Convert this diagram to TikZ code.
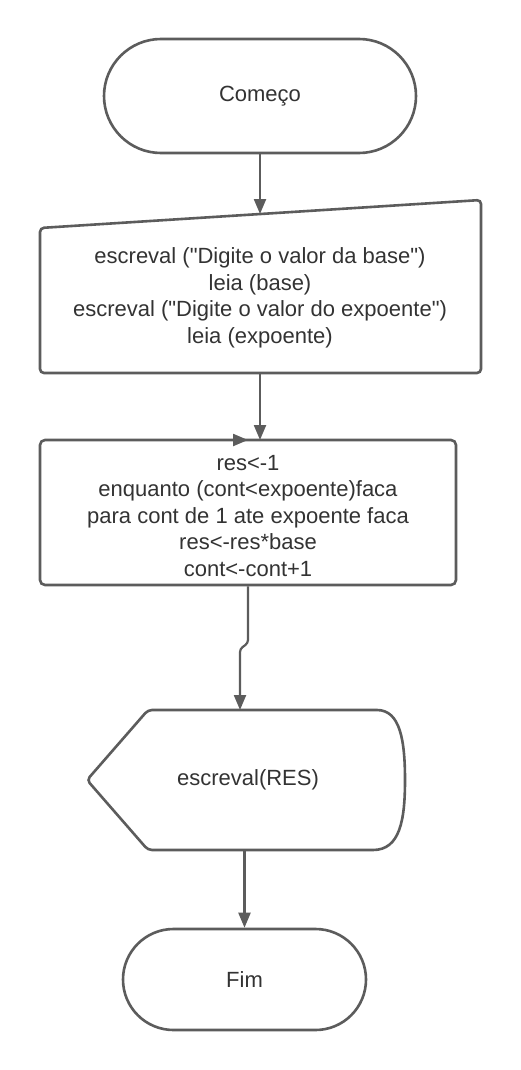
\documentclass[tikz,border=0pt]{standalone}
\usepackage{fontspec}
\setmainfont{Liberation Sans}
\usetikzlibrary{shapes.misc,arrows.meta}
\definecolor{lc}{HTML}{5C5C5C}
\definecolor{tc}{HTML}{333333}
\begin{document}
\begin{tikzpicture}[x=1pt,y=-1pt,
  every node/.style={text=tc,font=\fontsize{22}{26.5}\selectfont,align=center,inner sep=0pt},
  outline/.style={draw=lc,line width=2.6pt},
  term/.style={outline,rounded rectangle},
  arr/.style={draw=lc,line width=2.2pt,-{Triangle[length=15pt,width=12pt]}},
]
\useasboundingbox[fill=white] (0,0) rectangle (520,1070);

% start
\node[term,minimum width=312pt,minimum height=114pt] (start) at (260,96) {Começo};

% manual input
\draw[outline,rounded corners=4pt] (40,373) -- (481,373) -- (481,200) -- (40,228) -- cycle;
\node (input) at (260,298) {escreval (\textquotedbl Digite o valor da base\textquotedbl)\\leia (base)\\escreval (\textquotedbl Digite o valor do expoente\textquotedbl)\\leia (expoente)};
\coordinate (inTop) at (260,214);
\coordinate (inBot) at (260,373);

% process
\node[outline,rounded corners=5pt,minimum width=416pt,minimum height=145pt] (proc) at (248,512.5) {};
\node (proctext) at (248,516) {res<-1\\enquanto (cont<expoente)faca\\para cont de 1 ate expoente faca\\res<-res*base\\cont<-cont+1};
\coordinate (procIn) at (260,440);
\coordinate (loopA) at (215,440);
\coordinate (loopB) at (248,440);
\coordinate (bend1) at (248,643);
\coordinate (bend2) at (240,649);

% display
\draw[outline] (373,710) .. controls (400,710) and (405,740) .. (405,780)
  .. controls (405,820) and (400,850) .. (373,850)
  [rounded corners=4pt] -- (148,850) -- (87,780) -- (148,710) -- cycle;
\node (disp) at (248,780) {escreval(RES)};
\coordinate (dispIn) at (240,710);
\coordinate (dispOut) at (244.5,850);

% end
\node[term,minimum width=243pt,minimum height=101pt] (fim) at (244.5,979.5) {Fim};

% connectors
\draw[arr] (start.south) -- (inTop);
\draw[arr] (inBot) -- (procIn);
\draw[arr] (loopA) -- (loopB);
\draw[arr,rounded corners=3pt] (proc.south) -- (bend1) -- (bend2) -- (dispIn);
\draw[arr] (dispOut) -- (fim.north);
\end{tikzpicture}
\end{document}
